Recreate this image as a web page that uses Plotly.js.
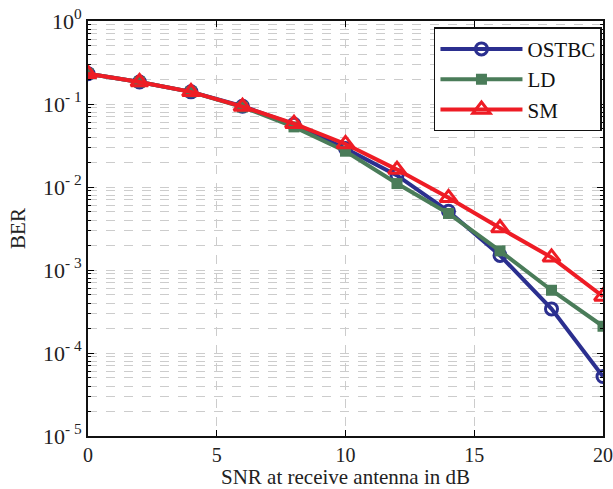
<!DOCTYPE html>
<html><head><meta charset="utf-8">
<script src="https://cdn.plot.ly/plotly-3.0.1.min.js"></script>
<style>html,body{margin:0;padding:0;background:#fff}#chart{width:613px;height:489px}</style>
</head><body><div id="chart"></div>
<script>
const snr = [0, 2, 4, 6, 8, 10, 12, 14, 16, 18, 20];
const berOSTBC = [0.232, 0.184, 0.140, 0.094, 0.057, 0.029, 0.0138, 0.0051, 0.0015, 0.00034, 0.000052];
const berLD    = [0.232, 0.184, 0.140, 0.092, 0.053, 0.027, 0.0110, 0.0048, 0.0017, 0.00057, 0.00021];
const berSM    = [0.232, 0.184, 0.140, 0.093, 0.058, 0.033, 0.0162, 0.0074, 0.0032, 0.00142, 0.00048];
const seriesNames = ["OSTBC", "LD", "SM"];
const xTicks = [0, 5, 10, 15, 20];
const decades = [-5, -4, -3, -2, -1, 0];

const yTickVals = [], yTickText = [], yMinorVals = [];
decades.forEach(function(d){
  yTickVals.push(Math.pow(10, d));
  yTickText.push("10<sup>" + (d < 0 ? "- " + (-d) : d) + "</sup>");
  if (d < 0) for (let m = 2; m <= 9; m++) yMinorVals.push(m * Math.pow(10, d));
});

const serif = "'Liberation Serif', 'Times New Roman', serif";
const traces = [
  {x: snr, y: berOSTBC, name: seriesNames[0], mode: "lines+markers",
   line: {color: "#2b2f8f", width: 4},
   marker: {symbol: "circle-open", size: 12, color: "#2b2f8f", line: {width: 3}}},
  {x: snr, y: berLD, name: seriesNames[1], mode: "lines+markers",
   line: {color: "#4a7c59", width: 4},
   marker: {symbol: "square", size: 11, color: "#4a7c59"}},
  {x: snr, y: berSM, name: seriesNames[2], mode: "lines+markers",
   line: {color: "#ee1c25", width: 4},
   marker: {symbol: "triangle-up-open", size: 15, color: "#ee1c25", line: {width: 3}}}
];

const layout = {
  width: 613, height: 489,
  margin: {l: 88, r: 10, t: 21, b: 53},
  paper_bgcolor: "#fff", plot_bgcolor: "#fff",
  font: {family: serif, size: 20, color: "#222"},
  showlegend: true,
  legend: {x: 0.998, y: 0.985, xanchor: "right", yanchor: "top",
           bordercolor: "#111", borderwidth: 1.5, bgcolor: "#fff",
           font: {family: serif, size: 21, color: "#111"}, tracegroupgap: 0, itemwidth: 82},
  xaxis: {
    range: [0, 20], tickvals: xTicks, ticks: "inside", ticklen: 6, tickcolor: "#000",
    showline: true, linecolor: "#111", linewidth: 2, mirror: "ticks",
    showgrid: true, gridcolor: "#cccccc", griddash: "dash", gridwidth: 1,
    zeroline: false, ticklabeloverflow: "allow",
    tickfont: {family: serif, size: 20, color: "#222"},
    title: {text: "SNR at receive antenna in dB", font: {family: serif, size: 21, color: "#222"}, standoff: 9}
  },
  yaxis: {
    type: "log", range: [-5, 0], tickvals: yTickVals, ticktext: yTickText,
    ticks: "inside", ticklen: 6, tickcolor: "#000",
    showline: true, linecolor: "#111", linewidth: 2, mirror: "ticks",
    showgrid: true, gridcolor: "#cccccc", griddash: "dash", gridwidth: 1,
    minor: {tickvals: yMinorVals, ticks: "inside", ticklen: 3, tickcolor: "#000",
            showgrid: true, gridcolor: "#cccccc", griddash: "dash", gridwidth: 1},
    zeroline: false, ticklabeloverflow: "allow",
    tickfont: {family: serif, size: 22, color: "#222"},
    title: {text: "BER", font: {family: serif, size: 21, color: "#222"}, standoff: 12}
  }
};

Plotly.newPlot("chart", traces, layout, {staticPlot: true, displayModeBar: false});
</script></body></html>
